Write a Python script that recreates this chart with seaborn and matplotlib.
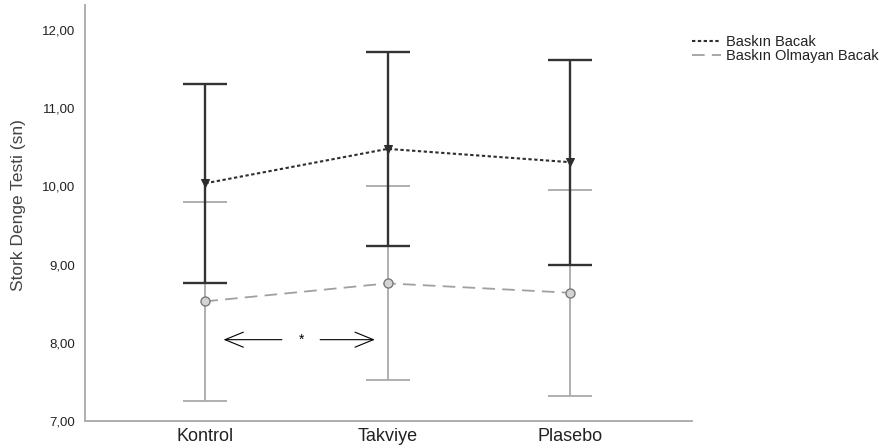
import matplotlib
matplotlib.use("Agg")
import matplotlib.pyplot as plt
import seaborn as sns
import numpy as np

groups = ["Kontrol", "Takviye", "Plasebo"]
series_names = ["Baskın Bacak", "Baskın Olmayan Bacak"]
dom_mean = [10.04, 10.48, 10.31]
dom_low = [8.76, 9.24, 8.99]
dom_high = [11.31, 11.72, 11.62]
nondom_mean = [8.53, 8.76, 8.64]
nondom_low = [7.25, 7.53, 7.32]
nondom_high = [9.80, 10.00, 9.96]
y_ticks = [7, 8, 9, 10, 11, 12]
y_tick_labels = ["7,00", "8,00", "9,00", "10,00", "11,00", "12,00"]
ylabel = "Stork Denge Testi (sn)"
sig_mark = "*"

sns.set_theme(style="white")
plt.rcParams["font.family"] = ["Liberation Sans", "DejaVu Sans"]

fig = plt.figure(figsize=(8.93, 4.46), dpi=100)
ax = fig.add_axes([85 / 893, 1 - 421 / 446, (692 - 85) / 893, (421 - 5) / 446])

x = np.arange(len(groups))
dark = "#333333"
light = "#a9a9a9"

# error bars: light first, dark on top
for mean, lo, hi, col, lw, z in [
    (nondom_mean, nondom_low, nondom_high, light, 1.3, 2),
    (dom_mean, dom_low, dom_high, dark, 1.7, 3),
]:
    mean = np.array(mean)
    yerr = np.vstack([mean - np.array(lo), np.array(hi) - mean])
    ax.errorbar(x, mean, yerr=yerr, fmt="none", ecolor=col, elinewidth=lw,
                capsize=16, capthick=lw, zorder=z)

sns.lineplot(x=x, y=nondom_mean, ax=ax, color="#a0a0a0", linewidth=1.3,
             linestyle=(0, (7, 4)), marker="o", markersize=6.5,
             markerfacecolor="#d4d4d4", markeredgecolor="#7a7a7a",
             markeredgewidth=1.0, label=series_names[1], zorder=4, legend=False)
sns.lineplot(x=x, y=dom_mean, ax=ax, color="#2e2e2e", linewidth=1.5,
             linestyle=(0, (1.6, 1.2)), marker="v", markersize=5.5,
             markerfacecolor="#2e2e2e", markeredgecolor="#2e2e2e",
             label=series_names[0], zorder=5, legend=False)

ax.set_xlim(-0.66, 2.67)
ax.set_ylim(7, 12.32)
ax.set_xticks(x)
ax.set_xticklabels(groups, fontsize=13, color="#222222")
ax.set_yticks(y_ticks)
ax.set_yticklabels(y_tick_labels, fontsize=9.5, color="#222222")
ax.tick_params(axis="both", length=0)
ax.tick_params(axis="y", pad=7)
ax.tick_params(axis="x", pad=5)
ax.set_ylabel(ylabel, fontsize=12.5, color="#444444")
ax.yaxis.set_label_coords(-0.098, 0.52)
ax.set_xlabel("")
for s in ["top", "right"]:
    ax.spines[s].set_visible(False)
for s in ["left", "bottom"]:
    ax.spines[s].set_color("#a8a8a8")
    ax.spines[s].set_linewidth(1.3)

# significance annotation between Kontrol and Takviye
arr_y = 8.04
astyle = "->,head_length=1.1,head_width=0.45"
ax.annotate("", xy=(0.10, arr_y), xytext=(0.42, arr_y),
            arrowprops=dict(arrowstyle=astyle, color="black", lw=0.8,
                            shrinkA=0, shrinkB=0))
ax.annotate("", xy=(0.93, arr_y), xytext=(0.63, arr_y),
            arrowprops=dict(arrowstyle=astyle, color="black", lw=0.8,
                            shrinkA=0, shrinkB=0))
ax.text(0.53, arr_y, sig_mark, ha="center", va="center", fontsize=10, color="black")

from matplotlib.lines import Line2D
handles = [
    Line2D([], [], color="#2e2e2e", lw=1.5, linestyle=(0, (1.6, 1.2))),
    Line2D([], [], color="#a0a0a0", lw=1.3, linestyle=(0, (7, 4))),
]
fig.legend(handles, series_names, loc="upper left",
           bbox_to_anchor=(692 / 893, 1 - 35 / 446), frameon=False,
           fontsize=10.5, handlelength=2.0, handletextpad=0.3,
           labelspacing=0.0, borderaxespad=0, borderpad=0,
           labelcolor="#222222")

fig.savefig("out.png", dpi=100)
